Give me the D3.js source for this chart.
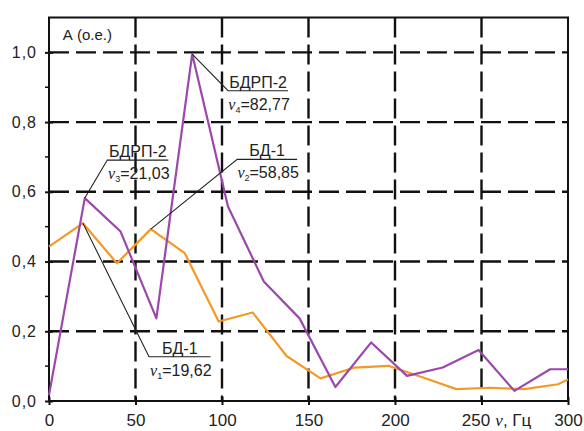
<!DOCTYPE html>
<html>
<head>
<meta charset="utf-8">
<script src="https://cdn.jsdelivr.net/npm/d3@7"></script>
<style>
  body { margin: 0; background: #fff; }
  svg text { font-family: "Liberation Sans", Arial, sans-serif; fill: #222; }
</style>
</head>
<body>
<svg id="chart"></svg>
<script>
// Orange series: БД-1
const bdX = [0, 19.62, 39.24, 58.85, 78.47, 98.09, 117.71, 137.33, 156.95, 176.57, 196.19, 215.81, 235.43, 255.05, 274.67, 294.29, 300];
const bdY = [0.443, 0.51, 0.395, 0.493, 0.424, 0.228, 0.254, 0.129, 0.065, 0.096, 0.101, 0.068, 0.034, 0.038, 0.034, 0.048, 0.062];
// Purple series: БДРП-2
const drpX = [0, 20.69, 41.38, 62.07, 82.77, 103.46, 124.15, 144.84, 165.54, 186.23, 206.92, 227.61, 248.3, 269, 289.69, 300];
const drpY = [0.017, 0.582, 0.486, 0.237, 0.995, 0.558, 0.343, 0.237, 0.04, 0.168, 0.072, 0.096, 0.146, 0.029, 0.091, 0.091];

const xTicks = [0, 50, 100, 150, 200, 250, 300];
const yTicks = [0, 0.2, 0.4, 0.6, 0.8, 1.0];
const yMinor = [0.1, 0.3, 0.5, 0.7, 0.9];

// callouts: peak point, elbow, end of underline (data units), two text lines
const notes = [
  { px: 82.77, py: 0.995, ex: 103.5, ey: 0.89, tx: 138.2, name: 'БДРП-2', sub: '4', val: '82,77' },
  { px: 20.69, py: 0.582, ex: 33.7, ey: 0.691, tx: 69, name: 'БДРП-2', sub: '3', val: '21,03' },
  { px: 58.85, py: 0.493, ex: 108.8, ey: 0.693, tx: 143.4, name: 'БД-1', sub: '2', val: '58,85' },
  { px: 19.62, py: 0.51, ex: 57.8, ey: 0.127, tx: 93.4, name: 'БД-1', sub: '1', val: '19,62' }
];

const config = {
  width: 584, height: 431,
  margin: { top: 17.5, right: 16, bottom: 30, left: 49 }
};

const svg = d3.select('#chart')
  .attr('width', config.width)
  .attr('height', config.height);

const x = d3.scaleLinear().domain([0, 300]).range([config.margin.left, config.width - config.margin.right]);
const y = d3.scaleLinear().domain([0, 1.1]).range([config.height - config.margin.bottom, config.margin.top]);

const [x0, x1] = x.range();
const [yb, yt] = y.range();

// dashed grid
svg.append('g').selectAll('line')
  .data(yTicks.filter(d => d > 0))
  .join('line')
  .attr('x1', x0).attr('x2', x1)
  .attr('y1', d => y(d)).attr('y2', d => y(d))
  .attr('stroke', '#111').attr('stroke-width', 2.4)
  .attr('stroke-dasharray', '20,7');

svg.append('g').selectAll('line')
  .data(xTicks.filter(d => d > 0 && d < 300))
  .join('line')
  .attr('x1', d => x(d)).attr('x2', d => x(d))
  .attr('y1', yt).attr('y2', yb)
  .attr('stroke', '#111').attr('stroke-width', 2.4)
  .attr('stroke-dasharray', '20,7');

// frame
svg.append('rect')
  .attr('x', x0).attr('y', yt)
  .attr('width', x1 - x0).attr('height', yb - yt)
  .attr('fill', 'none').attr('stroke', '#111').attr('stroke-width', 2);

// axes
const xAxis = d3.axisBottom(x).tickValues(xTicks).tickSizeInner(4).tickSizeOuter(0).tickPadding(9);
const xAxisG = svg.append('g').attr('transform', `translate(0,${yb})`).call(xAxis);
xAxisG.select('.domain').remove();
xAxisG.selectAll('.tick line').attr('y1', -4).attr('stroke', '#111').attr('stroke-width', 2);
xAxisG.selectAll('.tick text').style('font-size', '17px').attr('fill', '#222')
  .filter(d => d === 250).attr('dx', -6);

const yAxis = d3.axisLeft(y).tickValues(yTicks).tickSizeInner(4).tickSizeOuter(0).tickPadding(8)
  .tickFormat(d => d3.format('.1f')(d).replace('.', ','));
const yAxisG = svg.append('g').attr('transform', `translate(${x0},0)`).call(yAxis);
yAxisG.select('.domain').remove();
yAxisG.selectAll('.tick line').attr('x2', 4).attr('x1', -4).attr('stroke', '#111').attr('stroke-width', 2);
yAxisG.selectAll('.tick text').style('font-size', '16px').attr('fill', '#222').attr('letter-spacing', '1px');

svg.append('g').selectAll('line')
  .data(yMinor)
  .join('line')
  .attr('x1', x0 - 4).attr('x2', x0)
  .attr('y1', d => y(d)).attr('y2', d => y(d))
  .attr('stroke', '#111').attr('stroke-width', 1.5);

// axis titles
svg.append('text')
  .attr('x', x(8)).attr('y', y(1.035))
  .style('font-size', '15px')
  .text('А (о.е.)');

svg.append('text')
  .attr('x', x(258)).attr('y', yb + 25)
  .style('font-size', '17px')
  .call(t => {
    t.append('tspan').style('font-family', '"Liberation Serif", serif').style('font-style', 'italic').text('ν');
    t.append('tspan').text(', Гц');
  });

// series
const line = d3.line().x(d => x(d[0])).y(d => y(d[1]));

svg.append('path')
  .datum(d3.zip(bdX, bdY))
  .attr('fill', 'none').attr('stroke', '#f39a26').attr('stroke-width', 2.2)
  .attr('stroke-linejoin', 'round')
  .attr('d', line);

svg.append('path')
  .datum(d3.zip(drpX, drpY))
  .attr('fill', 'none').attr('stroke', '#9b48aa').attr('stroke-width', 2.2)
  .attr('stroke-linejoin', 'round')
  .attr('d', line);

// callouts
const noteG = svg.append('g').selectAll('g').data(notes).join('g');

noteG.append('polyline')
  .attr('points', d => [[x(d.px), y(d.py)], [x(d.ex), y(d.ey)], [x(d.tx), y(d.ey)]].join(' '))
  .attr('fill', 'none').attr('stroke', '#222').attr('stroke-width', 1.1);

noteG.append('text')
  .attr('x', d => (x(d.ex) + x(d.tx)) / 2)
  .attr('y', d => y(d.ey) - 3)
  .attr('text-anchor', 'middle')
  .style('font-size', '16px')
  .text(d => d.name);

noteG.append('text')
  .attr('x', d => (x(d.ex) + x(d.tx)) / 2 + 1)
  .attr('y', d => y(d.ey) + 19)
  .attr('text-anchor', 'middle')
  .style('font-size', '16px')
  .each(function (d) {
    const t = d3.select(this);
    t.append('tspan').style('font-family', '"Liberation Serif", serif').style('font-style', 'italic').text('ν');
    t.append('tspan').attr('dy', 3).style('font-size', '9px').text(d.sub);
    t.append('tspan').attr('dy', -3).text('=' + d.val);
  });
</script>
</body>
</html>
